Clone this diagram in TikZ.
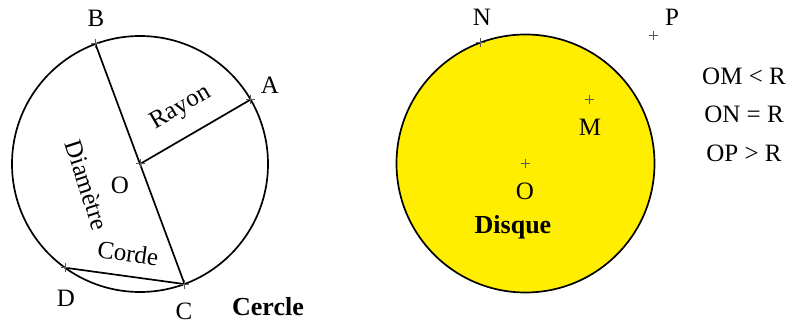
\documentclass[tikz,border=0pt]{standalone}
\usepackage{fontspec}
\setmainfont{Liberation Serif}
\definecolor{diskyellow}{HTML}{FFEE00}
\tikzset{
  lbl/.style={font=\fontsize{25}{29}\selectfont, inner sep=0pt},
  bold lbl/.style={font=\fontsize{26}{30}\selectfont\bfseries, inner sep=0pt},
  thickline/.style={line width=1.7pt},
  pics/plusmark/.style={code={\draw[black!65,line width=1pt] (-4.5,0)--(4.5,0) (0,-4.5)--(0,4.5);}}
}
\begin{document}
\begin{tikzpicture}[x=1pt,y=-1pt]
\useasboundingbox (0,0) rectangle (787,323);
% ---- Left: Cercle ----
\coordinate (O1) at (140,164);
\coordinate (A) at (250.6,99.6);
\coordinate (B) at (95.4,43.9);
\coordinate (C) at (184.6,284.1);
\coordinate (D) at (65,267.7);
\draw[thickline] (O1) circle[radius=128];
\draw[thickline] (B) -- (C);
\draw[thickline] (O1) -- (A);
\draw[thickline] (D) -- (C);
\foreach \p in {O1,A,B,C,D} \pic at (\p) {plusmark};
\node[lbl] (lA) at (270,85) {A};
\node[lbl] (lB) at (96,18) {B};
\node[lbl] (lC) at (184,311) {C};
\node[lbl] (lD) at (66,298) {D};
\node[lbl] (lO) at (120,185) {O};
\node[lbl, rotate=30] (rayon) at (181,108) {Rayon};
\node[lbl, rotate=-72] (diam) at (87,185) {Diamètre};
\node[lbl, rotate=-8] (corde) at (128,253) {Corde};
\node[bold lbl] (cercle) at (268,307) {Cercle};
% ---- Right: Disque ----
\coordinate (O2) at (525.5,163.5);
\coordinate (N) at (480.5,42.5);
\coordinate (M) at (589,99.5);
\coordinate (P) at (653,36);
\filldraw[thickline, fill=diskyellow] (O2) circle[radius=129];
\foreach \p in {O2,N,M,P} \pic at (\p) {plusmark};
\node[lbl] (lN) at (482,17) {N};
\node[lbl] (lP) at (672,17) {P};
\node[lbl] (lM) at (590,127) {M};
\node[lbl] (lO2) at (525,191) {O};
\node[bold lbl] (disque) at (513,227) {Disque};
\node[lbl] (r1) at (744,76) {OM < R};
\node[lbl] (r2) at (744,114) {ON = R};
\node[lbl] (r3) at (744,153) {OP > R};
\end{tikzpicture}
\end{document}
